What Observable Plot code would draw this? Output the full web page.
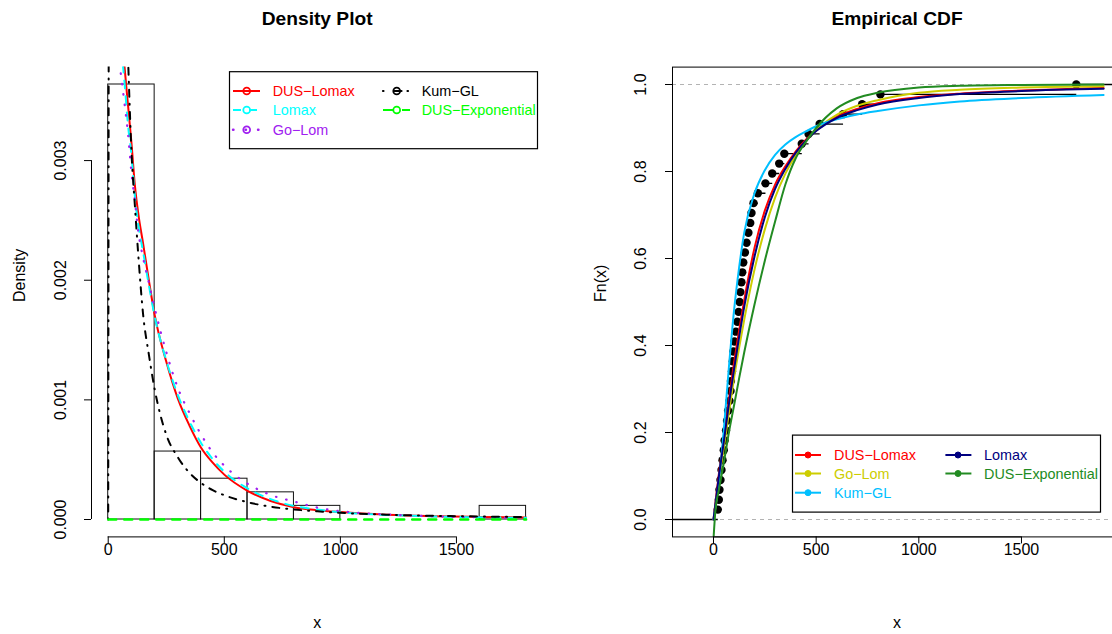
<!DOCTYPE html>
<html><head><meta charset="utf-8">
<script src="https://cdn.jsdelivr.net/npm/d3@7"></script>
<script src="https://cdn.jsdelivr.net/npm/@observablehq/plot@0.6"></script>
<style>
html,body{margin:0;padding:0;background:#fff;}
body{width:1112px;height:634px;overflow:hidden;position:relative;font-family:"Liberation Sans",Arial,Helvetica,sans-serif;}
.panel{position:absolute;top:0;height:634px;overflow:hidden;}
.panel svg{max-width:none !important;height:634px !important;display:block;}
#overlay{position:absolute;left:0;top:0;pointer-events:none;}
</style></head><body>
<div id="left" class="panel" style="left:0;width:556px"></div>
<div id="right" class="panel" style="left:556px;width:556px"></div>
<svg id="overlay" width="1112" height="634"></svg>
<script>
// ---------------- data ----------------
const histBreaks = [0, 200, 400, 600, 800, 1000, 1200, 1400, 1600, 1800];
const histDensity = [0.003636, 0.000568, 0.000341, 0.000227, 0.000114, 0, 0, 0, 0.000114];

const densX = [0, 5, 25, 50, 70, 85, 100, 115, 130, 150, 175, 200, 250, 300, 350, 400, 450, 500, 600, 700, 800, 900, 1000, 1200, 1400, 1600, 1800];
// densities in units of 1e-3
const densDUSLomax = [6.0, 5.8, 5.0, 4.3, 3.79, 3.47, 3.15, 2.79, 2.55, 2.31, 2.0, 1.71, 1.32, 1.01, 0.785, 0.60, 0.475, 0.375, 0.24, 0.155, 0.103, 0.078, 0.062, 0.040, 0.028, 0.021, 0.017];
const densLomax = [5.0, 4.95, 4.5, 4.05, 3.66, 3.30, 3.05, 2.70, 2.46, 2.24, 1.96, 1.70, 1.33, 1.04, 0.82, 0.64, 0.505, 0.40, 0.26, 0.17, 0.113, 0.083, 0.06, 0.038, 0.026, 0.018, 0.014];
const densGoLom = [4.6, 4.55, 4.15, 3.79, 3.48, 3.23, 2.90, 2.66, 2.40, 2.19, 1.98, 1.77, 1.40, 1.10, 0.89, 0.71, 0.56, 0.45, 0.30, 0.205, 0.15, 0.10, 0.07, 0.042, 0.027, 0.018, 0.012];
const densKumGL = [0, 7.0, 9.0, 6.5, 4.8, 3.88, 3.08, 2.62, 2.2, 1.72, 1.38, 1.09, 0.71, 0.52, 0.39, 0.305, 0.245, 0.203, 0.145, 0.107, 0.084, 0.068, 0.056, 0.040, 0.031, 0.025, 0.020];
const densDUSExp = [0, 0, 0, 0, 0, 0, 0, 0, 0, 0, 0, 0, 0, 0, 0, 0, 0, 0, 0, 0, 0, 0, 0, 0, 0, 0, 0];

const sampleX = [21, 26, 29, 34, 39, 44, 50, 54, 61, 66, 71, 78, 83, 85, 90, 94, 97, 102, 109, 116, 122, 127, 131, 136, 140, 145, 153, 161, 170, 179, 185, 195, 216, 253, 286, 320, 345, 430, 463, 517, 631, 724, 813, 1767];

const cdfX = [0, 10, 25, 50, 75, 100, 125, 150, 200, 250, 300, 350, 400, 450, 500, 600, 700, 800, 1000, 1200, 1500, 1900];
const cdfDUSLomax = [0, 0.04, 0.10, 0.185, 0.275, 0.36, 0.435, 0.505, 0.625, 0.71, 0.77, 0.812, 0.846, 0.873, 0.895, 0.926, 0.944, 0.957, 0.971, 0.979, 0.986, 0.992];
const cdfLomax = [0, 0.038, 0.095, 0.178, 0.265, 0.345, 0.42, 0.49, 0.605, 0.695, 0.76, 0.806, 0.843, 0.871, 0.893, 0.923, 0.941, 0.954, 0.969, 0.978, 0.985, 0.99];
const cdfGoLom = [0, 0.03, 0.085, 0.165, 0.245, 0.325, 0.395, 0.46, 0.575, 0.667, 0.74, 0.795, 0.837, 0.87, 0.895, 0.93, 0.951, 0.964, 0.981, 0.988, 0.993, 0.996];
const cdfKumGL = [0, 0.03, 0.085, 0.205, 0.35, 0.48, 0.58, 0.66, 0.75, 0.803, 0.838, 0.862, 0.879, 0.892, 0.904, 0.92, 0.931, 0.939, 0.952, 0.961, 0.969, 0.976];
const cdfDUSExp = [-0.045, 0.025, 0.065, 0.13, 0.2, 0.262, 0.325, 0.385, 0.495, 0.595, 0.685, 0.77, 0.83, 0.868, 0.90, 0.945, 0.969, 0.981, 0.993, 0.997, 0.999, 1.0];

const densTicksX = [0, 500, 1000, 1500];
const densTicksY = [0, 0.001, 0.002, 0.003];
const cdfTicksX = [0, 500, 1000, 1500];
const cdfTicksY = [0, 0.2, 0.4, 0.6, 0.8, 1.0];

const leftLegendLabels = ["DUS\u2212Lomax", "Lomax", "Go\u2212Lom", "Kum\u2212GL", "DUS\u2212Exponential"];
const rightLegendLabels = ["DUS\u2212Lomax", "Go\u2212Lom", "Kum\u2212GL", "Lomax", "DUS\u2212Exponential"];

// ---------------- styling ----------------
const FONT = "'Liberation Sans', Arial, Helvetica, sans-serif";
const TICK = 7;
const MT = 66.6, MB = 634 - 536.4;

function axisMarks(xDom, yDom, xt, yt, yFmt, ylabDx, xlabDy) {
  const x0 = xDom[0], y0 = yDom[0];
  return [
    Plot.ruleX([x0], {y1: yt[0], y2: yt[yt.length - 1], stroke: "black"}),
    Plot.ruleY(yt, {y: d => d, x1: x0, x2: x0, insetLeft: -TICK, stroke: "black"}),
    Plot.text(yt, {x: x0, y: d => d, text: d => d3.format(yFmt)(d), rotate: -90, dx: ylabDx, textAnchor: "middle", lineAnchor: "middle", fontSize: 16}),
    Plot.ruleY([y0], {x1: xt[0], x2: xt[xt.length - 1], stroke: "black"}),
    Plot.ruleX(xt, {x: d => d, y1: y0, y2: y0, insetBottom: -TICK, stroke: "black"}),
    Plot.text(xt, {x: d => d, y: y0, text: d => String(d), dy: xlabDy, lineAnchor: "middle", fontSize: 16})
  ];
}

// ---------------- left: density ----------------
const bins = histDensity.map((d, i) => ({x1: histBreaks[i], x2: histBreaks[i + 1], y: d}));
const span = histBreaks[histBreaks.length - 1] - histBreaks[0];
const xDomL = [histBreaks[0] - 0.04 * span, histBreaks[histBreaks.length - 1] + 0.04 * span];
const yMaxL = d3.max(histDensity);
const yDomL = [-0.04 * yMaxL, 1.04 * yMaxL];
const dTable = ys => densX.map((x, i) => ({x, y: ys[i] / 1000}));

const leftPlot = Plot.plot({
  width: 556, height: 634,
  marginLeft: 91, marginRight: 13.7, marginTop: MT, marginBottom: MB,
  x: {domain: xDomL, axis: null},
  y: {domain: yDomL, axis: null},
  style: {fontFamily: FONT, fontSize: "16px", background: "white"},
  marks: [
    Plot.rect(bins, {x1: "x1", x2: "x2", y1: 0, y2: "y", stroke: "#111", fill: "none", strokeWidth: 1}),
    Plot.line(dTable(densDUSLomax), {x: "x", y: "y", stroke: "#FF0000", strokeWidth: 2, curve: "monotone-x", clip: true}),
    Plot.line(dTable(densLomax), {x: "x", y: "y", stroke: "#00FFFF", strokeWidth: 2, strokeDasharray: "8,8", curve: "monotone-x", clip: true}),
    Plot.line(dTable(densGoLom), {x: "x", y: "y", stroke: "#A020F0", strokeWidth: 2.2, strokeDasharray: "0.5,10", strokeLinecap: "round", curve: "monotone-x", clip: true}),
    Plot.line(dTable(densKumGL), {x: "x", y: "y", stroke: "black", strokeWidth: 2, strokeDasharray: "1,7,7,7", strokeLinecap: "round", curve: "monotone-x", clip: true}),
    Plot.line(dTable(densDUSExp), {x: "x", y: "y", stroke: "#00FF00", strokeWidth: 2.5, strokeDasharray: "8,8", curve: "monotone-x", clip: true}),
    ...axisMarks(xDomL, yDomL, densTicksX, densTicksY, ".3f", -31, 12.5),
    Plot.text(["Density Plot"], {frameAnchor: "top", dy: -(MT - 18), fontWeight: "bold", fontSize: 19.2, lineAnchor: "middle"}),
    Plot.text(["x"], {frameAnchor: "bottom", dy: 622 - 536.4, fontSize: 16, lineAnchor: "middle"}),
    Plot.text(["Density"], {frameAnchor: "left", dx: -(91 - 19), rotate: -90, fontSize: 16, lineAnchor: "middle"})
  ]
});
document.getElementById("left").appendChild(leftPlot);

// ---------------- right: ECDF ----------------
const n = sampleX.length;
const ecdfPts = sampleX.map((x, i) => ({x, y: (i + 1) / n}));
const rx = d3.extent(sampleX);
const dr = 0.08 * (rx[1] - rx[0]);
const xl = [rx[0] - dr, rx[1] + dr];
const xDomR = [xl[0] - 0.04 * (xl[1] - xl[0]), xl[1] + 0.04 * (xl[1] - xl[0])];
const yDomR = [-0.04, 1.04];
const steps = [{x1: xDomR[0], x2: sampleX[0], y: 0}]
  .concat(sampleX.map((x, i) => ({x1: x, x2: i + 1 < n ? sampleX[i + 1] : xDomR[1], y: (i + 1) / n})));
const cTable = ys => cdfX.map((x, i) => ({x, y: ys[i]}));

const rightPlot = Plot.plot({
  width: 566, height: 634,
  marginLeft: 116, marginRight: 0.9, marginTop: MT, marginBottom: MB,
  x: {domain: xDomR, axis: null},
  y: {domain: yDomR, axis: null},
  style: {fontFamily: FONT, fontSize: "16px", background: "white", maxWidth: "none"},
  marks: [
    Plot.ruleY([0, 1], {stroke: "#B3B3B3", strokeDasharray: "4,4", strokeWidth: 1}),
    Plot.link(steps, {x1: "x1", x2: "x2", y1: "y", y2: "y", stroke: "black", strokeWidth: 1.3, clip: true}),
    Plot.dot(ecdfPts, {x: "x", y: "y", r: 4.2, fill: "black", stroke: "none"}),
    Plot.line(cTable(cdfDUSLomax), {x: "x", y: "y", stroke: "#FF0000", strokeWidth: 2, curve: "monotone-x", clip: true}),
    Plot.line(cTable(cdfGoLom), {x: "x", y: "y", stroke: "#CDCD00", strokeWidth: 2, curve: "monotone-x", clip: true}),
    Plot.line(cTable(cdfKumGL), {x: "x", y: "y", stroke: "#00BFFF", strokeWidth: 2, curve: "monotone-x", clip: true}),
    Plot.line(cTable(cdfLomax), {x: "x", y: "y", stroke: "#000080", strokeWidth: 2, curve: "monotone-x", clip: true}),
    Plot.line(cTable(cdfDUSExp), {x: "x", y: "y", stroke: "#228B22", strokeWidth: 2, curve: "monotone-x", clip: true}),
    Plot.frame({stroke: "black", strokeWidth: 1}),
    ...axisMarks(xDomR, yDomR, cdfTicksX, cdfTicksY, ".1f", -32, 12.5),
    Plot.text(["Empirical CDF"], {frameAnchor: "top", dy: -(MT - 18), fontWeight: "bold", fontSize: 19.2, lineAnchor: "middle"}),
    Plot.text(["x"], {frameAnchor: "bottom", dy: 622 - 536.4, fontSize: 16, lineAnchor: "middle"}),
    Plot.text(["Fn(x)"], {frameAnchor: "left", dx: -(672 - 600), rotate: -90, fontSize: 16, lineAnchor: "middle"})
  ]
});
document.getElementById("right").appendChild(rightPlot);

// ---------------- legends ----------------
const ov = d3.select("#overlay");
function drawLegend(box, items, rows, cols, open) {
  const g = ov.append("g").attr("transform", `translate(${box.x},${box.y})`);
  g.append("rect").attr("x", 0.5).attr("y", 0.5).attr("width", box.w).attr("height", box.h)
    .attr("fill", "white").attr("stroke", "black").attr("stroke-width", 1.2);
  items.forEach(it => {
    const cy = rows[it.row], c = cols[it.col];
    g.append("line").attr("x1", c.l1).attr("x2", c.l2).attr("y1", cy).attr("y2", cy)
      .attr("stroke", it.color).attr("stroke-width", it.sw || 2)
      .attr("stroke-dasharray", it.dash || null).attr("stroke-linecap", it.cap || "butt");
    g.append("circle").attr("cx", c.p).attr("cy", cy).attr("r", open ? 3.4 : 3)
      .attr("fill", open ? "none" : it.color).attr("stroke", it.color).attr("stroke-width", open ? 1.8 : 1);
    g.append("text").attr("x", c.t).attr("y", cy).attr("dy", "0.36em")
      .attr("fill", it.text || it.color).attr("font-family", FONT).attr("font-size", 14.4).text(it.label);
  });
}
drawLegend({x: 229, y: 71.2, w: 308, h: 77},
  [
    {label: leftLegendLabels[0], color: "#FF0000", row: 0, col: 0},
    {label: leftLegendLabels[1], color: "#00FFFF", dash: "8,8", row: 1, col: 0},
    {label: leftLegendLabels[2], color: "#A020F0", dash: "0.5,12", cap: "round", sw: 2.4, row: 2, col: 0},
    {label: leftLegendLabels[3], color: "black", dash: "0.5,11,7,6", cap: "round", sw: 2.2, row: 0, col: 1},
    {label: leftLegendLabels[4], color: "#00FF00", dash: "11,8", row: 1, col: 1}
  ],
  [19.8, 38.8, 58.6],
  [{l1: 4, l2: 31, p: 17.7, t: 43.7}, {l1: 154, l2: 181, p: 167.7, t: 192.7}], true);
drawLegend({x: 792, y: 434.6, w: 308, h: 77},
  [
    {label: rightLegendLabels[0], color: "#FF0000", row: 0, col: 0},
    {label: rightLegendLabels[1], color: "#CDCD00", row: 1, col: 0},
    {label: rightLegendLabels[2], color: "#00BFFF", row: 2, col: 0},
    {label: rightLegendLabels[3], color: "#000080", row: 0, col: 1},
    {label: rightLegendLabels[4], color: "#228B22", row: 1, col: 1}
  ],
  [20.4, 38.9, 58.1],
  [{l1: 3, l2: 29, p: 16, t: 42}, {l1: 153.4, l2: 179.4, p: 166, t: 192}], false);
</script>
</body></html>
